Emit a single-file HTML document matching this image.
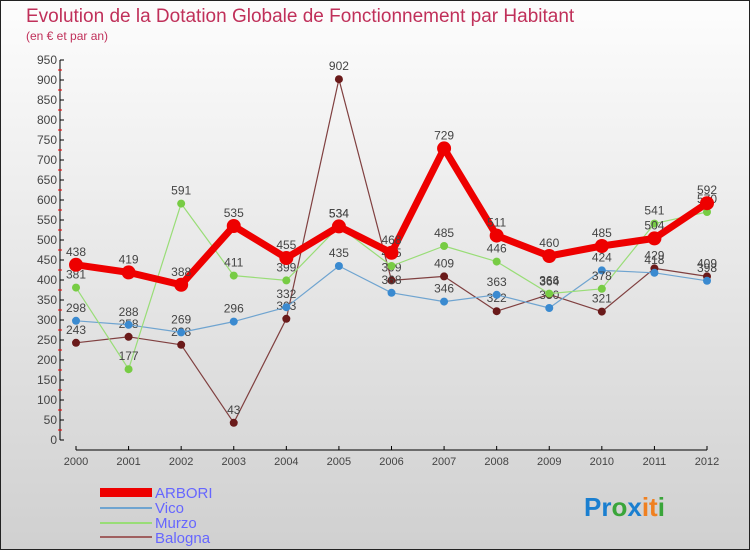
<!DOCTYPE html>
<html><head><meta charset="utf-8"><style>
body{margin:0}
svg{display:block;font-family:"Liberation Sans",sans-serif}
</style></head><body>
<svg width="750" height="550" xmlns="http://www.w3.org/2000/svg">
<defs><linearGradient id="bg" x1="0" y1="0" x2="0" y2="1"><stop offset="0" stop-color="#fdfdfd"/><stop offset="1" stop-color="#d0d0d0"/></linearGradient></defs>
<rect x="0.5" y="0.5" width="749" height="549" fill="url(#bg)" stroke="#222"/>
<text x="26" y="22" font-size="19" fill="#c0305a">Evolution de la Dotation Globale de Fonctionnement par Habitant</text>
<text x="26" y="40" font-size="12" fill="#c0305a">(en € et par an)</text>
<g id="axes"></g><g id="series"></g>
<g>
<rect x="100" y="488" width="52" height="9" fill="#e00"/>
<text x="155" y="498" font-size="15" fill="#6666ff">ARBORI</text>
<line x1="100" y1="508" x2="152" y2="508" stroke="#6fa4d0" stroke-width="2"/>
<text x="155" y="513" font-size="15" fill="#6666ff">Vico</text>
<line x1="100" y1="523" x2="152" y2="523" stroke="#99dd77" stroke-width="2"/>
<text x="155" y="528" font-size="15" fill="#6666ff">Murzo</text>
<line x1="100" y1="537" x2="152" y2="537" stroke="#a06060" stroke-width="2"/>
<text x="155" y="543" font-size="15" fill="#6666ff">Balogna</text>
</g>
<text x="584" y="516" font-size="26" font-weight="bold"><tspan fill="#1a7fd0">Pr</tspan><tspan fill="#3aa53a">o</tspan><tspan fill="#1a7fd0">x</tspan><tspan fill="#f08020">it</tspan><tspan fill="#3aa53a">i</tspan></text>
</svg>
<script>
const years=["2000","2001","2002","2003","2004","2005","2006","2007","2008","2009","2010","2011","2012"];
const arbori=[438,419,388,535,455,534,468,729,511,460,485,504,592];
const vico=[298,288,269,296,332,435,368,346,363,330,424,418,398];
const murzo=[381,177,591,411,399,534,435,485,446,366,378,541,570];
const balogna=[243,258,238,43,303,902,399,409,322,364,321,429,409];
const yTicks=[0,50,100,150,200,250,300,350,400,450,500,550,600,650,700,750,800,850,900,950];
const NS="http://www.w3.org/2000/svg";
const x=i=>76+i*(707-76)/(years.length-1);
const y=v=>440-v*380/950;
function mk(tag,attrs,parent,txt){const e=document.createElementNS(NS,tag);for(const k in attrs)e.setAttribute(k,attrs[k]);if(txt!==undefined)e.textContent=txt;parent.appendChild(e);return e;}
const ax=document.getElementById('axes');
let e=mk('line',{x1:60,y1:y(950),x2:60,y2:440,stroke:'#000'},ax);


e=mk('line',{x1:76,y1:450,x2:707,y2:450,stroke:'#000'},ax);


yTicks.forEach(t=>{
  mk('line',{x1:60,x2:64,y1:y(t),y2:y(t),stroke:'#000'},ax);
  if(t<950)mk('line',{x1:58,x2:62,y1:y(t+25),y2:y(t+25),stroke:'#e00'},ax);
  e=mk('text',{x:57,y:y(t)+4,'font-size':12,'text-anchor':'end',fill:'#444'},ax,String(t));
  
  
});
years.forEach((yr,i)=>{
  mk('line',{x1:x(i),x2:x(i),y1:446,y2:450,stroke:'#000'},ax);
  e=mk('text',{x:x(i),y:465,'font-size':11,'text-anchor':'middle',fill:'#444'},ax,yr);
  
  
});
const sg=document.getElementById('series');
function draw(name,data,color,w,r,dot){
  const g=mk('g',{},sg);
  
  
  const p=mk('polyline',{points:data.map((v,i)=>x(i)+','+y(v)).join(' '),fill:'none',stroke:color,'stroke-width':w,'stroke-linejoin':'round'},g);
  
  
  data.forEach((v,i)=>{
    const c=mk('circle',{cx:x(i),cy:y(v),r:r,fill:dot},g);
    
    
    const t=mk('text',{x:x(i),y:y(v)-9,'font-size':12,'text-anchor':'middle',fill:'#444'},g,String(v));
    
    
  });
}
draw('balogna',balogna,'#804040',1.2,4,'#6a1a1a');
draw('vico',vico,'#6fa4d0',1.2,4,'#3a8ad0');
draw('murzo',murzo,'#99dd77',1.2,4,'#77cc44');
draw('arbori',arbori,'#ee0000',7,7,'#ee0000');
</script>
</body></html>
